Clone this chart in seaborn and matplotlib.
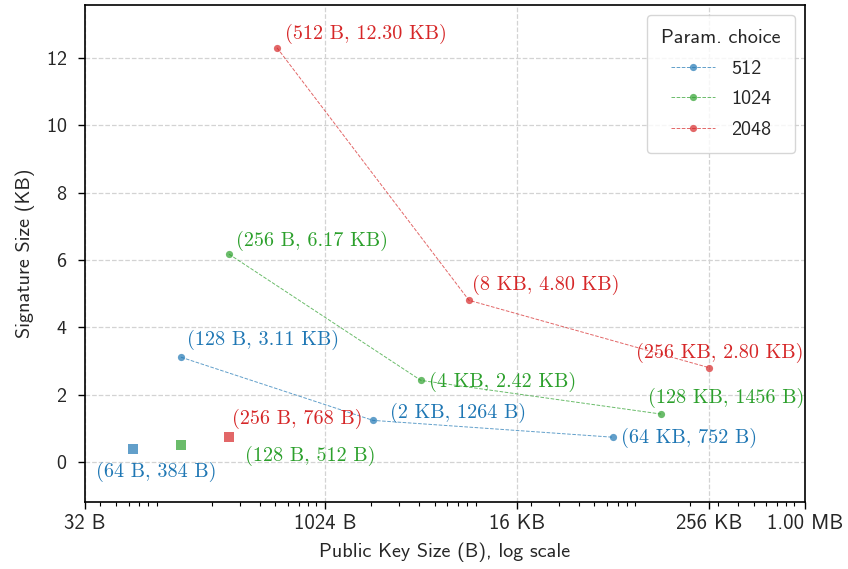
import numpy as np
import pandas as pd
import matplotlib
matplotlib.use("Agg")
import matplotlib.pyplot as plt
import seaborn as sns
from matplotlib.ticker import FixedLocator, FixedFormatter, NullFormatter

# parameter sets (public key size in bytes, signature size in KB)
params = ["512", "1024", "2048"]
pk_512 = [128, 2048, 65536]
sig_512 = [3.11, 1.234, 0.734]
lab_512 = ["(128 B, 3.11 KB)", "(2 KB, 1264 B)", "(64 KB, 752 B)"]
pk_1024 = [256, 4096, 131072]
sig_1024 = [6.17, 2.42, 1.422]
lab_1024 = ["(256 B, 6.17 KB)", "(4 KB, 2.42 KB)", "(128 KB, 1456 B)"]
pk_2048 = [512, 8192, 262144]
sig_2048 = [12.30, 4.80, 2.80]
lab_2048 = ["(512 B, 12.30 KB)", "(8 KB, 4.80 KB)", "(256 KB, 2.80 KB)"]

# compact variants (square markers)
pk_small = [64, 128, 256]
sig_small = [0.375, 0.5, 0.75]
lab_small = ["(64 B, 384 B)", "(128 B, 512 B)", "(256 B, 768 B)"]

x_ticks = [32, 1024, 16384, 262144, 1048576]
x_ticklabels = ["32 B", "1024 B", "16 KB", "256 KB", "1.00 MB"]

colors = ["tab:blue", "tab:green", "tab:red"]

# label offsets in pixels (dx, dy, ha), text vertically centred
offs_main = [
    [(6, 17, "left"), (17, 7, "left"), (8, -1, "left")],
    [(7, 13, "left"), (8, -1, "left"), (-13, 16, "left")],
    [(8, 14, "left"), (3, 15, "left"), (11, 15, "center")],
]
offs_small = [(-37, -23, "left"), (64, -11, "left"), (3, 18, "left")]

sns.set_theme(style="ticks")
plt.rcParams["font.family"] = ["cmss10", "DejaVu Sans"]
plt.rcParams["axes.unicode_minus"] = False
plt.rcParams["axes.formatter.use_mathtext"] = True

frames = []
for p, xs, ys in zip(params, [pk_512, pk_1024, pk_2048], [sig_512, sig_1024, sig_2048]):
    frames.append(pd.DataFrame({"pk": xs, "sig": ys, "Param. choice": p}))
df = pd.concat(frames, ignore_index=True)
df_small = pd.DataFrame({"pk": pk_small, "sig": sig_small, "Param. choice": params})

fig = plt.figure(figsize=(8.48, 5.69), dpi=100)
ax = fig.add_axes([85 / 848, 1 - 502 / 569, 720 / 848, 497 / 569])

sns.lineplot(data=df, x="pk", y="sig", hue="Param. choice", palette=colors,
             marker="o", markersize=5.2, mew=0, linestyle="--", linewidth=0.7,
             alpha=0.7, ax=ax)
sns.scatterplot(data=df_small, x="pk", y="sig", hue="Param. choice", palette=colors,
                marker="s", s=55, linewidth=0, alpha=0.7, legend=False, ax=ax)

ann_font = dict(family=["cmr10", "DejaVu Serif"], fontsize=14.5)
for col, xs, ys, labs, offs in zip(colors, [pk_512, pk_1024, pk_2048],
                                   [sig_512, sig_1024, sig_2048],
                                   [lab_512, lab_1024, lab_2048], offs_main):
    for x, y, t, (dx, dy, ha) in zip(xs, ys, labs, offs):
        ax.annotate(t, (x, y), xytext=(dx, dy), textcoords="offset pixels",
                    ha=ha, va="center", color=col, **ann_font)
for col, x, y, t, (dx, dy, ha) in zip(colors, pk_small, sig_small, lab_small, offs_small):
    ax.annotate(t, (x, y), xytext=(dx, dy), textcoords="offset pixels",
                ha=ha, va="center", color=col, **ann_font)

ax.set_xscale("log")
ax.set_xlim(32, 1048576)
ax.set_ylim(-1.19, 13.57)
ax.xaxis.set_major_locator(FixedLocator(x_ticks))
ax.xaxis.set_major_formatter(FixedFormatter(x_ticklabels))
ax.xaxis.set_minor_formatter(NullFormatter())
ax.set_yticks([0, 2, 4, 6, 8, 10, 12])
ax.tick_params(axis="x", which="major", labelsize=15, length=5, width=1, color="black")
ax.tick_params(axis="y", which="major", labelsize=14.5, length=5, width=1,
               color="black", pad=8)
ax.tick_params(axis="x", which="minor", length=3, width=0.8, color="black")
ax.grid(True, which="major", linestyle="--", color="#d3d3d3", linewidth=0.9)
for s in ax.spines.values():
    s.set_visible(True)
    s.set_color("black")
    s.set_linewidth(1.2)

ax.set_xlabel("Public Key Size (B), log scale", fontsize=14.5, labelpad=7)
ax.set_ylabel("Signature Size (KB)", fontsize=14.5, labelpad=8)

leg = ax.legend(title="Param. choice", loc="upper right", fontsize=14.5,
                title_fontsize=14.5, frameon=True, borderpad=0.7,
                handlelength=2.2, handletextpad=0.8, labelspacing=0.62)
leg.get_frame().set_edgecolor("#cccccc")

fig.savefig("out.png", dpi=100)
